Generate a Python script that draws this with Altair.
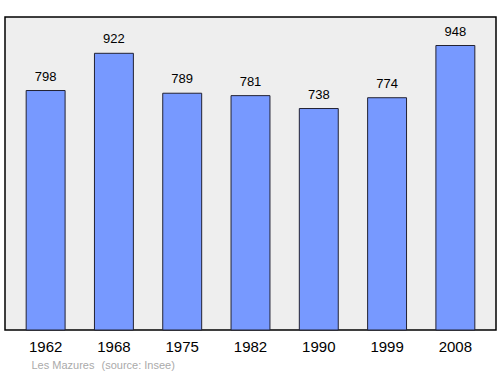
import altair as alt
import pandas as pd

years = ["1962", "1968", "1975", "1982", "1990", "1999", "2008"]
population = [798, 922, 789, 781, 738, 774, 948]

df = pd.DataFrame({"year": years, "pop": population})

x = alt.X("year:N", sort=years,
          scale=alt.Scale(paddingInner=0.43, paddingOuter=0.31),
          axis=alt.Axis(title=None, labelAngle=0, ticks=False, domain=False,
                        labelFontSize=15, labelPadding=9, labelColor="#000",
                        labelFont="Liberation Sans"))
y = alt.Y("pop:Q", scale=alt.Scale(domain=[0, 1043], nice=False, zero=True),
          axis=None)

base = alt.Chart(df).encode(x=x, y=y)

bars = base.mark_bar(color="#7799ff", stroke="#223", strokeWidth=1)
labels = base.mark_text(baseline="alphabetic", dy=-10, fontSize=13,
                        font="Liberation Sans", color="#000").encode(text="pop:Q")

footer1 = alt.Chart(pd.DataFrame({"t": ["Les Mazures"]})).mark_text(
    align="left", baseline="middle", fontSize=11, color="#aaaaaa",
    font="Liberation Sans").encode(x=alt.value(26.5), y=alt.value(349), text="t:N")
footer2 = alt.Chart(pd.DataFrame({"t": ["(source: Insee)"]})).mark_text(
    align="left", baseline="middle", fontSize=11, color="#aaaaaa",
    font="Liberation Sans").encode(x=alt.value(96.5), y=alt.value(349), text="t:N")

chart = alt.layer(bars, labels, footer1, footer2).properties(
    width=491, height=313,
    autosize=alt.AutoSizeParams(type="none"),
    padding={"left": 5, "top": 17, "right": 4, "bottom": 44},
    background="#ffffff",
).configure_view(fill="#eeeeee", stroke="#000000", strokeWidth=1.5)

chart.save("out.html", embed_options={"renderer": "svg", "actions": False})
